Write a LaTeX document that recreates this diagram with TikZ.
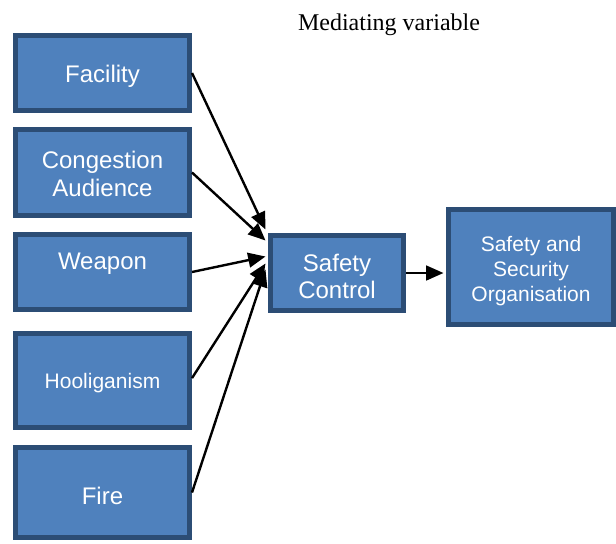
\documentclass[tikz,border=0pt]{standalone}
\usepackage{fontspec}
\setmainfont{Liberation Serif}
\newfontfamily\arialf{Liberation Sans}
\usetikzlibrary{arrows.meta,calc}
\definecolor{boxfill}{HTML}{4F81BD}
\definecolor{boxline}{HTML}{2C4D75}
\begin{document}
\begin{tikzpicture}[x=0.75pt,y=-0.75pt,
  varbox/.style={draw=boxline,fill=boxfill,line width=3.75pt,inner sep=0pt,
    minimum width=130.5pt,text=white,align=center,text height=17.5pt,
    font=\arialf\fontsize{18pt}{21pt}\selectfont},
  smalltext/.style={font=\arialf\fontsize{15.75pt}{18.75pt}\selectfont,text height=15.5pt},
  conn/.style={line width=1.8pt,-{Triangle[length=13pt,width=11pt]}}]
\useasboundingbox (0,0) rectangle (616,543);
\node[font=\fontsize{18pt}{21pt}\selectfont] (title) at (389,25) {Mediating variable};
\node[varbox,minimum height=56.25pt] (fac) at (102.5,73) {Facility};
\node[varbox,minimum height=64.5pt,text height=36pt] (cong) at (102.5,172.5) {Congestion\\Audience};
\node[varbox,minimum height=56.25pt,text depth=22pt] (weap) at (102.5,272) {Weapon};
\node[varbox,smalltext,minimum height=70.5pt] (hool) at (102.5,380.5) {Hooliganism};
\node[varbox,minimum height=67.5pt] (fire) at (102.5,492.5) {Fire};
\node[varbox,minimum width=99.75pt,minimum height=56.25pt,text height=38pt,font=\arialf\fontsize{18pt}{20pt}\selectfont] (sc) at (337,273) {Safety\\Control};
\node[varbox,smalltext,minimum width=123.75pt,minimum height=86.25pt,text height=54.5pt] (sso) at (531,267) {Safety and\\Security\\Organisation};
\draw[conn] (fac.east) -- ($(sc.north west)+(-2.5,-3.5)$);
\draw[conn] (cong.east) -- ($(sc.north west)+(-2.5,7.5)$);
\draw[conn] (weap.east) -- ($(sc.north west)+(-2.5,23.5)$);
\draw[conn] ([yshift=1.8pt]hool.east) -- ($(sc.north west)+(-2.5,30.5)$);
\draw[conn] (fire.east) -- ($(sc.north west)+(-2.5,36.5)$);
\draw[conn] (sc.east) -- ($(sc.east -| sso.west)+(-2.5,0)$);
\end{tikzpicture}
\end{document}
